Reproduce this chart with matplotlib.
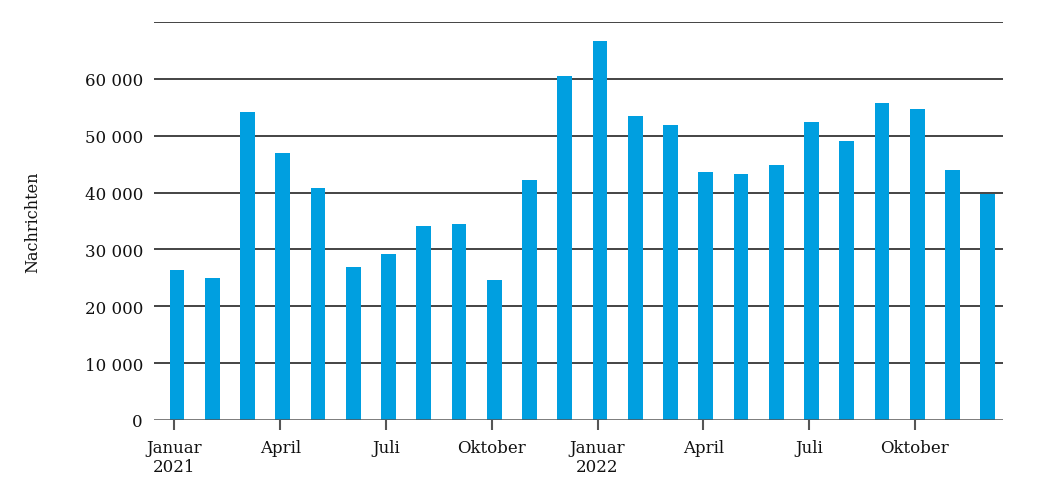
import matplotlib
matplotlib.use("Agg")
import matplotlib.pyplot as plt
import numpy as np

months = ["Jan 21", "Feb 21", "Mär 21", "Apr 21", "Mai 21", "Jun 21", "Jul 21", "Aug 21",
          "Sep 21", "Okt 21", "Nov 21", "Dez 21", "Jan 22", "Feb 22", "Mär 22", "Apr 22",
          "Mai 22", "Jun 22", "Jul 22", "Aug 22", "Sep 22", "Okt 22", "Nov 22", "Dez 22"]
values = [26400, 25000, 54100, 46900, 40800, 26900, 29200, 34100,
          34500, 24600, 42200, 60500, 66600, 53500, 51900, 43700,
          43200, 44900, 52400, 49000, 55700, 54700, 43900, 39700]
tick_months = [0, 3, 6, 9, 12, 15, 18, 21]
tick_labels = ["Januar\n2021", "April", "Juli", "Oktober", "Januar\n2022", "April", "Juli", "Oktober"]
y_ticks = [0, 10000, 20000, 30000, 40000, 50000, 60000]
y_labels = ["0", "10 000", "20 000", "30 000", "40 000", "50 000", "60 000"]

plt.rcParams['font.family'] = ['DejaVu Serif']

fig = plt.figure(figsize=(10.43, 4.89), dpi=100)
ax = fig.add_axes([154/1043, 1 - 421/489, (1003-154)/1043, (421-23)/489])

x = np.arange(len(values))
ax.bar(x, values, width=0.42, color="#009fe0", zorder=3)

for g in [10000, 20000, 30000, 40000, 50000, 60000, 70000]:
    ax.axhline(g, color="#111111", lw=1.1, zorder=2)
ax.axhline(0, color="#555555", lw=1.8, zorder=4)

ax.set_xlim(-0.65, 23.43)
ax.set_ylim(0, 70000)
for s in ax.spines.values():
    s.set_visible(False)

ax.set_yticks(y_ticks)
ax.set_yticklabels(y_labels, fontsize=12, color="#111111")
ax.tick_params(axis="y", length=0, pad=8)

ax.set_xticks(np.array(tick_months) - 0.07)
ax.set_xticklabels(tick_labels, fontsize=12, color="#111111", linespacing=1.1)
ax.tick_params(axis="x", length=7, width=1.5, color="#555555", pad=7)

fig.text(33/1043, 1 - 222/489, "Nachrichten", rotation=90, ha="center", va="center",
         fontsize=11.5, color="#111111")

fig.savefig("out.png", dpi=100)
